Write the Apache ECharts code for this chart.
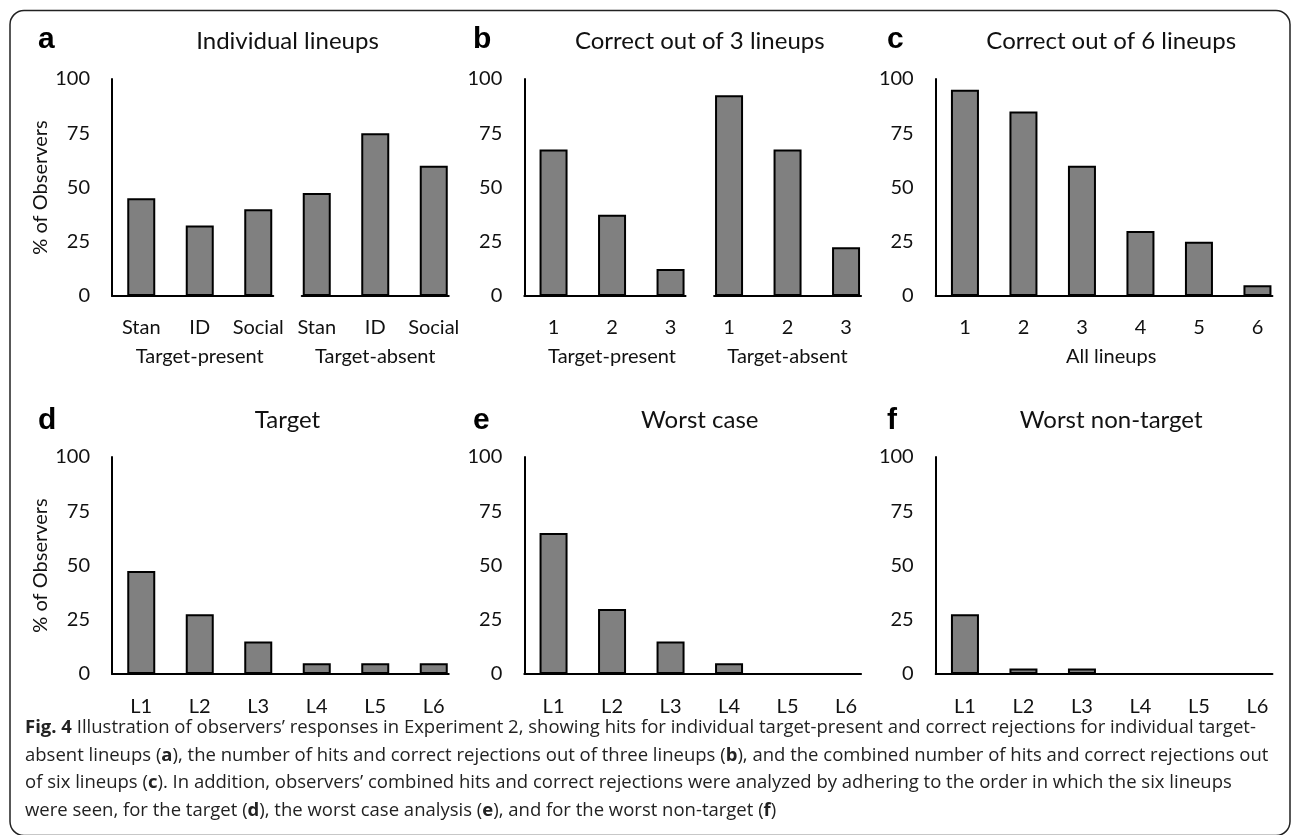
<!DOCTYPE html>
<html>
<head>
<meta charset="utf-8">
<script src="https://cdn.jsdelivr.net/npm/echarts@6/dist/echarts.min.js"></script>
<style>
  html, body { margin: 0; padding: 0; background: #fff; }
  #chart { width: 1292px; height: 835px; }
</style>
</head>
<body>
<div id="chart"></div>
<script>
// ---------- data ----------
const catsA = ['Stan', 'ID', 'Social', 'Stan', 'ID', 'Social'];
const groupsA = ['Target-present', 'Target-absent'];
const valsA = [45, 32.5, 40, 47.5, 75, 60];

const catsB = ['1', '2', '3', '1', '2', '3'];
const groupsB = ['Target-present', 'Target-absent'];
const valsB = [67.5, 37.5, 12.5, 92.5, 67.5, 22.5];

const catsC = ['1', '2', '3', '4', '5', '6'];
const groupsC = ['All lineups'];
const valsC = [95, 85, 60, 30, 25, 5];

const catsL = ['L1', 'L2', 'L3', 'L4', 'L5', 'L6'];
const valsD = [47.5, 27.5, 15, 5, 5, 5];
const valsE = [65, 30, 15, 5, 0, 0];
const valsF = [27.5, 2.5, 2.5, 0, 0, 0];

const yMin = 0, yMax = 100, yStep = 25;
const yName = '% of Observers';

const titles = ['Individual lineups', 'Correct out of 3 lineups', 'Correct out of 6 lineups',
                'Target', 'Worst case', 'Worst non-target'];
const letters = ['a', 'b', 'c', 'd', 'e', 'f'];

const captionLines = [
  '{b|Fig. 4} Illustration of observers\u2019 responses in Experiment 2, showing hits for individual target-present and correct rejections for individual target-',
  'absent lineups ({b|a}), the number of hits and correct rejections out of three lineups ({b|b}), and the combined number of hits and correct rejections out',
  'of six lineups ({b|c}). In addition, observers\u2019 combined hits and correct rejections were analyzed by adhering to the order in which the six lineups',
  'were seen, for the target ({b|d}), the worst case analysis ({b|e}), and for the worst non-target ({b|f})'
];

// ---------- layout ----------
const FONT = 'Lato';
const BAND = 58.5;          // category band width
const BARW = 28;            // bar width (inner)
const BAR_OUT = BARW + 2;   // outer width with border
const GW = BAND * 6;
const lefts = [112, 524.3, 935.7];
const rows = [{ top: 79, h: 217, titleY: 41.5, letterY: 39.6, margin: 21.5 },
              { top: 457, h: 217, titleY: 420, letterY: 421, margin: 23 }];
const letterX = [38, 473, 887];

const panels = [
  { cats: catsA, vals: valsA, groups: groupsA, split: true, yname: true },
  { cats: catsB, vals: valsB, groups: groupsB, split: true, yname: false },
  { cats: catsC, vals: valsC, groups: groupsC, split: false, yname: false },
  { cats: catsL, vals: valsD, groups: null, split: false, yname: true },
  { cats: catsL, vals: valsE, groups: null, split: false, yname: false },
  { cats: catsL, vals: valsF, groups: null, split: false, yname: false }
];

const grid = [], xAxis = [], yAxis = [], series = [], graphic = [];
const labelStyle = { color: '#111', fontSize: 20, fontFamily: FONT };

panels.forEach((p, i) => {
  const L = lefts[i % 3];
  const row = rows[Math.floor(i / 3)];
  const gi = grid.length;
  grid.push({ left: L, top: row.top, width: GW, height: row.h });
  const xi = xAxis.length;
  xAxis.push({
    gridIndex: gi, type: 'category', data: p.cats, boundaryGap: true,
    axisLine: { show: false }, axisTick: { show: false },
    axisLabel: Object.assign({ margin: row.margin, interval: 0 }, labelStyle)
  });
  if (p.groups) {
    xAxis.push({
      gridIndex: gi, type: 'category', data: p.groups, position: 'bottom', offset: 29,
      axisLine: { show: false }, axisTick: { show: false },
      axisLabel: Object.assign({ margin: row.margin, interval: 0 }, labelStyle)
    });
  }
  const yi = yAxis.length;
  yAxis.push({
    gridIndex: gi, type: 'value', min: yMin, max: yMax, interval: yStep,
    axisLine: { show: true, lineStyle: { color: '#000', width: 2 } },
    axisTick: { show: false }, splitLine: { show: false },
    axisLabel: Object.assign({ margin: 22 }, labelStyle),
    name: p.yname ? yName : '', nameLocation: 'middle', nameGap: 61,
    nameTextStyle: { color: '#111', fontSize: 20, fontFamily: FONT }
  });
  series.push({
    type: 'bar', xAxisIndex: xi, yAxisIndex: yi, data: p.vals, barWidth: BARW,
    itemStyle: { color: '#808080', borderColor: '#000', borderWidth: 2 },
    silent: true, z: 3
  });
  // baseline segments (as value axes of auxiliary grids)
  const segs = p.split
    ? [[L, L + BAND * 2.5 + BAR_OUT / 2], [L + BAND * 3.5 - BAR_OUT / 2, L + BAND * 5.5 + BAR_OUT / 2]]
    : [[L, L + BAND * 5.5 + BAR_OUT / 2]];
  segs.forEach(s => {
    const ag = grid.length;
    grid.push({ left: s[0], top: row.top, width: s[1] - s[0], height: row.h });
    xAxis.push({
      gridIndex: ag, type: 'value', min: 0, max: 1,
      axisLine: { show: true, onZero: false, lineStyle: { color: '#000', width: 2 } },
      axisTick: { show: false }, axisLabel: { show: false }, splitLine: { show: false }
    });
    yAxis.push({ gridIndex: ag, type: 'value', min: 0, max: 1, show: false });
  });
  // title & letter
  graphic.push({
    type: 'text', z: 10,
    style: { text: titles[i], x: L + GW / 2, y: row.titleY, align: 'center', verticalAlign: 'middle',
             fill: '#111', fontSize: 24, fontFamily: FONT }
  });
  graphic.push({
    type: 'text', z: 10,
    style: { text: letters[i], x: letterX[i % 3], y: row.letterY, align: 'left', verticalAlign: 'middle',
             fill: '#000', fontSize: 30, fontWeight: 'bold', fontFamily: 'Liberation Sans' }
  });
});

// caption
const capFont = 18.5;
const capY = [727.5, 755.3, 783.1, 810.9];
captionLines.forEach((t, k) => {
  graphic.push({
    type: 'text', z: 10,
    style: {
      text: t, x: 25, y: capY[k], align: 'left', verticalAlign: 'middle',
      fill: '#222', fontSize: capFont, fontFamily: 'Open Sans',
      rich: { b: { fontWeight: 'bold', fontSize: capFont, fontFamily: 'Open Sans', fill: '#222' } }
    }
  });
});

// frame
graphic.push({
  type: 'rect', z: 0, silent: true,
  shape: { x: 10, y: 10.5, width: 1280, height: 825, r: 14 },
  style: { fill: 'none', stroke: '#222', lineWidth: 1.5 }
});

const chart = echarts.init(document.getElementById('chart'), null, { renderer: 'canvas' });
chart.setOption({
  animation: false,
  backgroundColor: '#fff',
  grid, xAxis, yAxis, series, graphic
});
</script>
</body>
</html>
